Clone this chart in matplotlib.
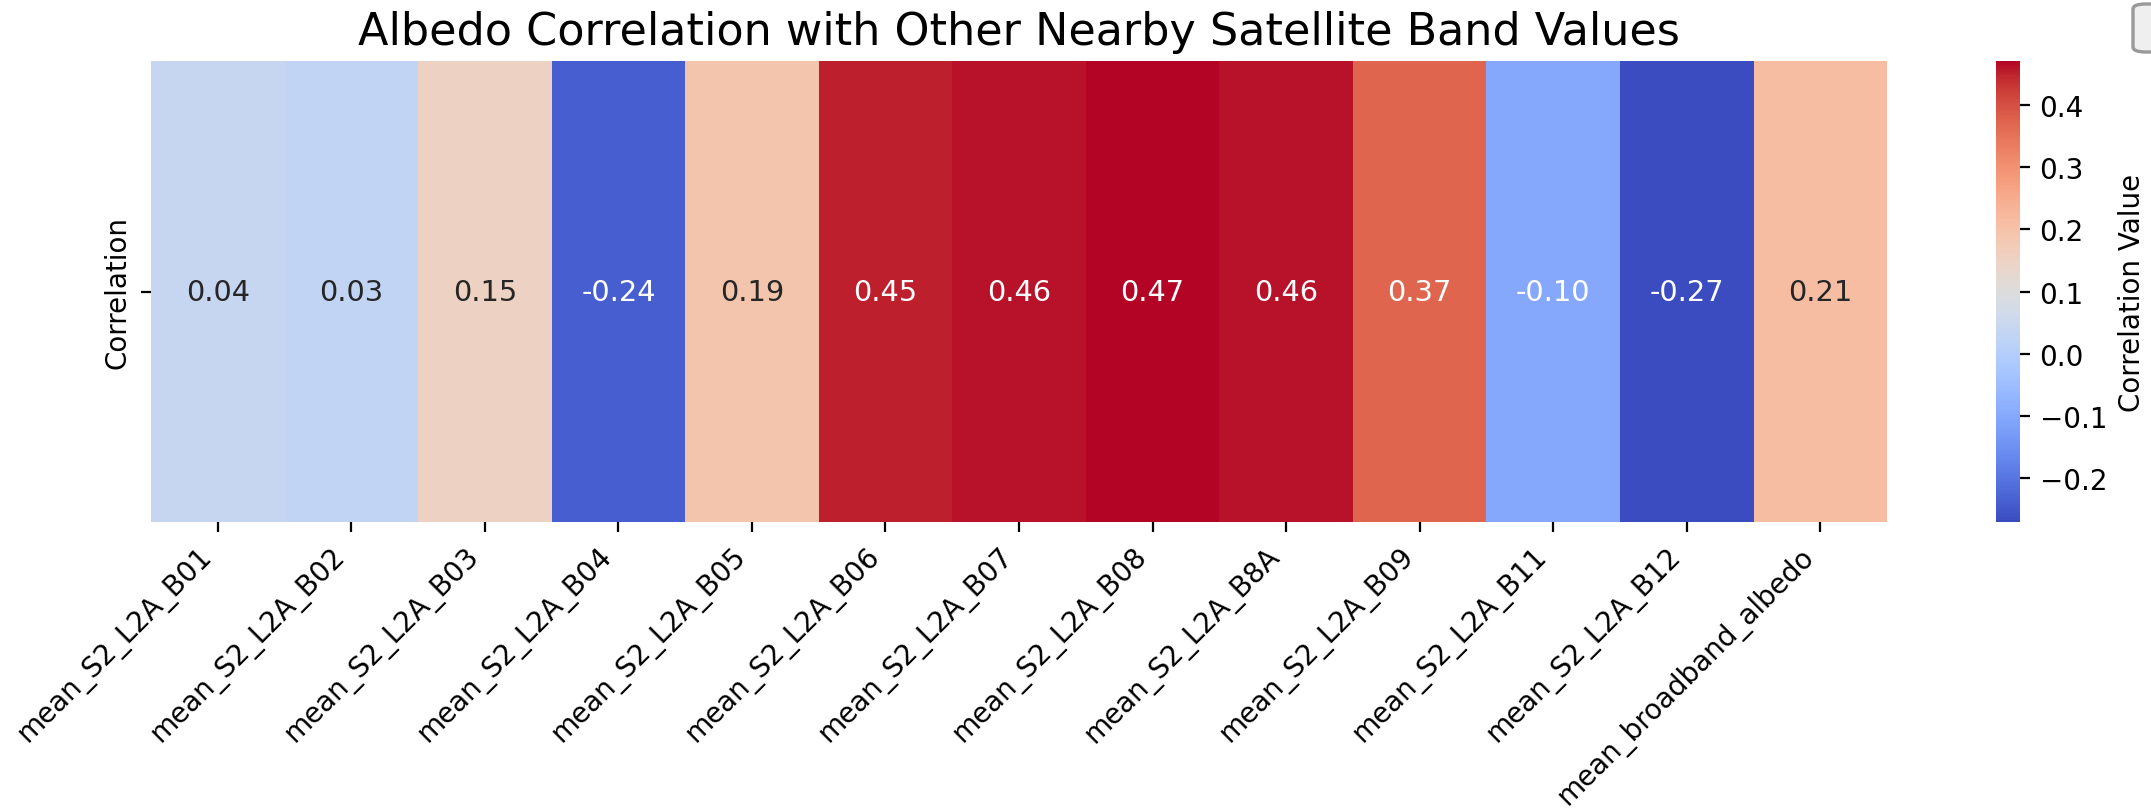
import numpy as np
import pandas as pd
import matplotlib as mpl
mpl.use('Agg')
import matplotlib.pyplot as plt
import seaborn as sns
from matplotlib.patches import FancyBboxPatch

# correlation of each band mean with albedo
bands = ['mean_S2_L2A_B01', 'mean_S2_L2A_B02', 'mean_S2_L2A_B03', 'mean_S2_L2A_B04',
         'mean_S2_L2A_B05', 'mean_S2_L2A_B06', 'mean_S2_L2A_B07', 'mean_S2_L2A_B08',
         'mean_S2_L2A_B8A', 'mean_S2_L2A_B09', 'mean_S2_L2A_B11', 'mean_S2_L2A_B12',
         'mean_broadband_albedo']
corr_vals = [0.04, 0.03, 0.15, -0.24, 0.19, 0.45, 0.46, 0.47, 0.46, 0.37, -0.10, -0.27, 0.21]

corr_df = pd.DataFrame([corr_vals], columns=bands, index=['Correlation'])

fig = plt.figure(figsize=(10.755, 4.06), dpi=200)
ax = fig.add_axes([0.0702, 0.3559, 0.8071, 0.5677])
cax = fig.add_axes([0.928, 0.3559, 0.01116, 0.5677])

sns.heatmap(corr_df, annot=True, fmt='.2f', cmap='coolwarm', ax=ax, cbar_ax=cax,
            cbar_kws={'label': 'Correlation Value'}, annot_kws={'fontsize': 10.4})
ax.set_title('Albedo Correlation with Other Nearby Satellite Band Values', fontsize=16)
plt.setp(ax.get_xticklabels(), rotation=45, ha='right')
ax.tick_params(labelsize=10)
cax.tick_params(labelsize=10)
cax.yaxis.label.set_size(10)

# little button box sitting in the top right corner
btn = FancyBboxPatch((2133 / 2151, 1 - 53 / 812), 40 / 2151, 48 / 812,
                     boxstyle='round,pad=0,rounding_size=0.006', transform=fig.transFigure,
                     facecolor='#efefef', edgecolor='#999999', linewidth=1.2, clip_on=False)
fig.patches.append(btn)

plt.savefig('out.png', dpi=200)
